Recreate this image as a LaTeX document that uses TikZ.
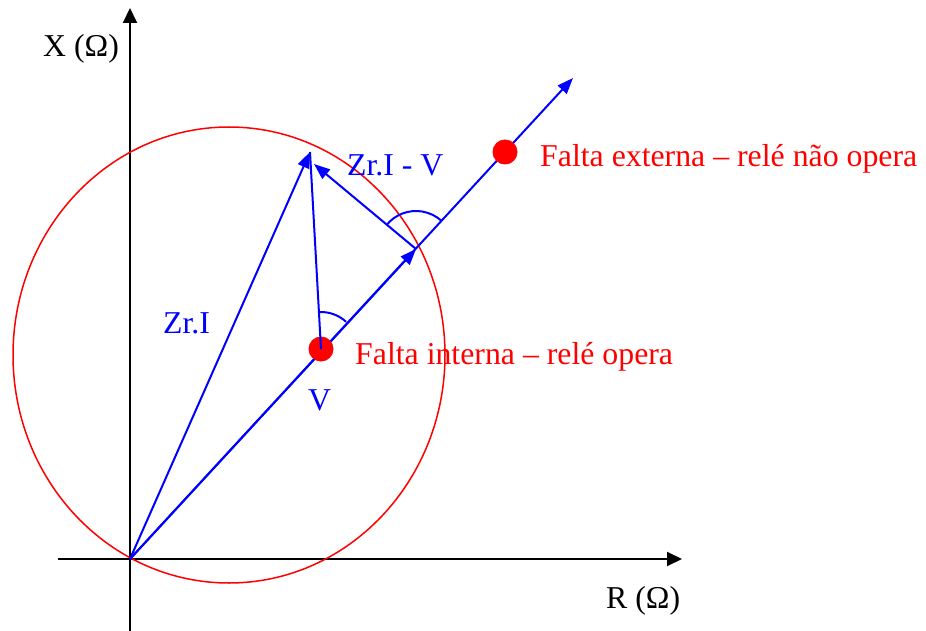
\documentclass[tikz,border=0pt]{standalone}
\usepackage{fontspec}
\setmainfont{Liberation Serif}
\usetikzlibrary{arrows.meta}
\begin{document}
\begin{tikzpicture}[x=1bp,y=-1bp,
  axis/.style={line width=2bp,black,-{Triangle[length=15bp,width=14bp]}},
  vec/.style={line width=2bp,blue,-{Triangle[length=16bp,width=12bp]}},
  seg/.style={line width=2bp,blue},
  lbl/.style={inner sep=0pt,anchor=base west,font=\fontsize{31.8bp}{38bp}\selectfont},
  dot/.style={circle,fill=red,inner sep=0pt,minimum size=25bp}]
\useasboundingbox (0,0) rectangle (926,631);
% coordinates
\coordinate (O) at (130,559);
\coordinate (E) at (573,78);
\coordinate (Q) at (416,249);
\coordinate (Z) at (310,152);
\coordinate (Zb) at (314,164);
\coordinate (Ytop) at (130,8);
\coordinate (Ybot) at (130,631);
\coordinate (Xl) at (58,559);
\coordinate (Xr) at (682,559);
% axes
\draw[axis] (Ybot) -- (Ytop);
\draw[axis] (Xl) -- (Xr);
% circle
\draw[red,line width=1.5bp] (229,355) ellipse [x radius=216, y radius=228];
% vectors
\draw[vec] (O) -- (E);
\draw[vec] (O) -- (Q);
\draw[vec] (O) -- (Z);
\node[dot] (Pi) at (321,349) {};
\node[dot] (Pe) at (505,152) {};
\draw[seg] (Pi.center) -- (Z);
\draw[vec] (Q) -- (Zb);
% angle arcs
\draw[seg] ([shift={(-93.2:37)}]Pi.center) arc[start angle=-93.2, end angle=-47.4, radius=37];
\draw[seg] ([shift={(-140.8:38)}]Q) arc[start angle=-140.8, end angle=-47.4, radius=38];
% labels
\node[lbl] (lx) at (43,57) {X (Ω)};
\node[lbl] (lr) at (606,608) {R (Ω)};
\node[lbl,blue] (lz) at (163,333) {Zr.I};
\node[lbl,blue] (lv) at (308,410) {V};
\node[lbl,blue] (lzv) at (347,176) {Zr.I - V};
\node[lbl,red] (li) at (355,364) {Falta interna -- relé opera};
\node[lbl,red] (le) at (540,167) {Falta externa -- relé não opera};
\end{tikzpicture}
\end{document}
